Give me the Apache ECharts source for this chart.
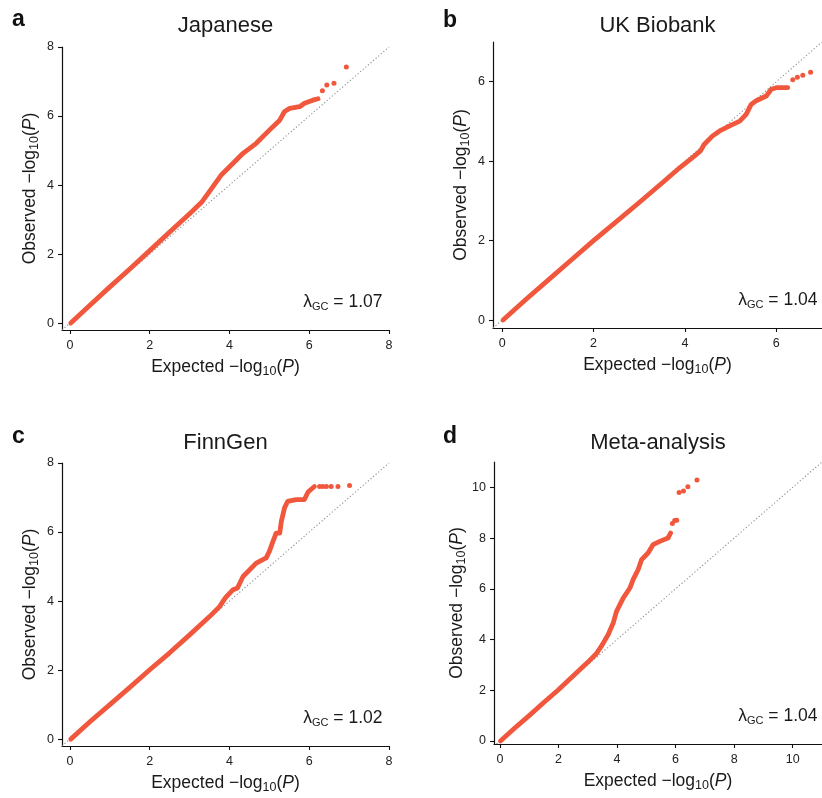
<!DOCTYPE html>
<html><head><meta charset="utf-8">
<script src="https://cdn.jsdelivr.net/npm/echarts@6/dist/echarts.min.js"></script>
<style>html,body{margin:0;padding:0;background:#fff}#c{width:822px;height:798px}</style>
</head><body><div id="c"></div>
<script>
// ---------------- data ----------------
const panelLetters = ['a', 'b', 'c', 'd'];
const panelTitles = ['Japanese', 'UK Biobank', 'FinnGen', 'Meta-analysis'];
const lambdaGC = ['1.07', '1.04', '1.02', '1.04'];
const xTickValues = [[0, 2, 4, 6, 8], [0, 2, 4, 6], [0, 2, 4, 6, 8], [0, 2, 4, 6, 8, 10]];
const yTickValues = [[0, 2, 4, 6, 8], [0, 2, 4, 6], [0, 2, 4, 6, 8], [0, 2, 4, 6, 8, 10]];

// [expected, observed] — dense band of points
const japaneseDense = [[0.02,0.0],[0.5,0.52],[1,1.05],[1.5,1.57],[2,2.1],[2.5,2.64],[3,3.17],[3.3,3.5],[3.54,3.88],[3.8,4.3],[4.09,4.63],[4.34,4.92],[4.67,5.21],[5.0,5.59],[5.26,5.88],[5.38,6.13],[5.51,6.22],[5.76,6.27],[5.88,6.37],[6.09,6.46],[6.22,6.5]];
const japaneseTail = [[6.33,6.73],[6.44,6.9],[6.62,6.95],[6.93,7.42]];

const ukbDense = [[0.02,0.0],[0.5,0.5],[1,1.0],[1.5,1.5],[2,2.0],[2.5,2.48],[3,2.96],[3.5,3.45],[3.89,3.84],[4.2,4.12],[4.34,4.26],[4.42,4.42],[4.6,4.63],[4.76,4.76],[4.98,4.89],[5.2,5.01],[5.34,5.18],[5.45,5.43],[5.56,5.52],[5.78,5.64],[5.89,5.81],[6.0,5.85],[6.25,5.85]];
const ukbTail = [[6.36,6.05],[6.46,6.11],[6.58,6.16],[6.75,6.24]];

const finnDense = [[0.02,0.0],[0.5,0.5],[1,1.0],[1.5,1.5],[2,2.01],[2.5,2.5],[3,3.02],[3.5,3.55],[3.75,3.84],[3.9,4.1],[4.09,4.33],[4.2,4.38],[4.34,4.71],[4.67,5.1],[4.92,5.25],[5.0,5.44],[5.09,5.73],[5.17,5.97],[5.26,5.97],[5.3,6.31],[5.38,6.7],[5.46,6.89],[5.67,6.94],[5.88,6.94],[5.97,7.16],[6.13,7.32]];
const finnTail = [[6.26,7.32],[6.34,7.32],[6.43,7.32],[6.55,7.32],[6.72,7.32],[7.01,7.35]];

const metaDense = [[0.02,0.0],[0.5,0.5],[1,1.0],[1.5,1.52],[2,2.02],[2.5,2.56],[3,3.1],[3.3,3.45],[3.5,3.8],[3.7,4.2],[3.87,4.65],[3.98,5.1],[4.21,5.63],[4.44,6.03],[4.55,6.36],[4.72,6.75],[4.84,7.15],[5.06,7.41],[5.23,7.74],[5.46,7.87],[5.74,8.0],[5.83,8.2]];
const metaTail = [[5.89,8.57],[5.97,8.69],[6.04,8.7],[6.12,9.8],[6.27,9.86],[6.42,10.02],[6.73,10.29]];

const denseSets = [japaneseDense, ukbDense, finnDense, metaDense];
const tailSets = [japaneseTail, ukbTail, finnTail, metaTail];

// ---------------- layout / style ----------------
const grids = [
  {left: 62, top: 47, width: 327, height: 283},
  {left: 493, top: 42, width: 329, height: 286},
  {left: 62, top: 463, width: 327, height: 283},
  {left: 494, top: 462, width: 328, height: 282}
];
const xRange = [[-0.2, 8], [-0.2, 7], [-0.2, 8], [-0.2, 11]];
const yRange = [[-0.2, 8], [-0.2, 7], [-0.2, 8], [-0.12, 11]];
const titleCenterY = [26, 26, 443, 443];
const letterPos = [[12, 26], [443, 27], [12, 443], [443, 443]];
const PT = '#F0573D';
const FONT = 'Liberation Sans, Arial, sans-serif';
const TXT = '#1a1a1a';

const nameRich = {
  n: {fontSize: 17.5, fontFamily: FONT, color: TXT},
  s: {fontSize: 12.5, fontFamily: FONT, color: TXT, verticalAlign: 'bottom', padding: [9, 0, 0, 0]},
  i: {fontSize: 17.5, fontFamily: FONT, color: TXT, fontStyle: 'italic'}
};

const option = {
  animation: false,
  backgroundColor: '#fff',
  grid: grids.map(g => Object.assign({containLabel: false}, g)),
  xAxis: grids.map((g, i) => ({
    type: 'value', gridIndex: i, min: xRange[i][0], max: xRange[i][1],
    splitLine: {show: false},
    axisLine: {show: true, onZero: false, lineStyle: {color: '#111', width: 1.2}},
    axisTick: {show: true, length: 4, customValues: xTickValues[i], lineStyle: {color: '#111', width: 1.1}},
    axisLabel: {customValues: xTickValues[i], fontSize: 12.5, fontFamily: FONT, color: '#222', margin: 9},
    name: '{n|Expected −log}{s|10}{n|(}{i|P}{n|)}',
    nameLocation: 'middle', nameGap: 26,
    nameTextStyle: {rich: nameRich}
  })),
  yAxis: grids.map((g, i) => ({
    type: 'value', gridIndex: i, min: yRange[i][0], max: yRange[i][1],
    splitLine: {show: false},
    axisLine: {show: true, onZero: false, lineStyle: {color: '#111', width: 1.2}},
    axisTick: {show: true, length: 4, customValues: yTickValues[i], lineStyle: {color: '#111', width: 1.1}},
    axisLabel: {customValues: yTickValues[i], fontSize: 12.5, fontFamily: FONT, color: '#222', margin: 8},
    name: '{n|Observed −log}{s|10}{n|(}{i|P}{n|)}',
    nameLocation: 'middle', nameGap: 21,
    nameTextStyle: {rich: nameRich}
  })),
  series: [],
  graphic: []
};

grids.forEach((g, i) => {
  const lo = Math.min(xRange[i][0], yRange[i][0]);
  const hi = Math.min(xRange[i][1], yRange[i][1]);
  option.series.push({
    type: 'line', xAxisIndex: i, yAxisIndex: i, silent: true, symbol: 'none',
    data: [[lo, lo], [hi, hi]],
    lineStyle: {color: '#8f8f8f', width: 1.1, type: [1.2, 2.2]}, z: 1
  });
  option.series.push({
    type: 'line', xAxisIndex: i, yAxisIndex: i, silent: true, symbol: 'none',
    data: denseSets[i],
    lineStyle: {color: PT, width: 4.8, cap: 'round', join: 'round'}, z: 3
  });
  option.series.push({
    type: 'scatter', xAxisIndex: i, yAxisIndex: i, silent: true,
    data: tailSets[i], symbolSize: 5,
    itemStyle: {color: PT, opacity: 1}, z: 3
  });
  const cx = g.left + g.width / 2;
  option.graphic.push({
    type: 'text', x: cx, y: titleCenterY[i],
    style: {text: panelTitles[i], align: 'center', verticalAlign: 'middle',
      font: '22px ' + FONT, fill: TXT}
  });
  option.graphic.push({
    type: 'text', x: letterPos[i][0], y: letterPos[i][1] + 5,
    style: {text: panelLetters[i], align: 'left', verticalAlign: 'bottom',
      font: 'bold 23px ' + FONT, fill: '#111'}
  });
  option.graphic.push({
    type: 'text', x: g.left + g.width - (i % 2 === 0 ? 6.5 : 4.5), y: g.top + g.height - 18,
    style: {
      text: '{l|λ}{g|GC}{n| = ' + lambdaGC[i] + '}',
      align: 'right', verticalAlign: 'bottom',
      rich: {
        l: {fontSize: 17.5, fontFamily: FONT, fill: TXT},
        g: {fontSize: 11, fontFamily: FONT, fill: TXT, verticalAlign: 'bottom', padding: [8, 0, 0, 0]},
        n: {fontSize: 17.5, fontFamily: FONT, fill: TXT}
      }
    }
  });
});

const chart = echarts.init(document.getElementById('c'), null, {renderer: 'canvas'});
chart.setOption(option);
</script>
</body></html>
